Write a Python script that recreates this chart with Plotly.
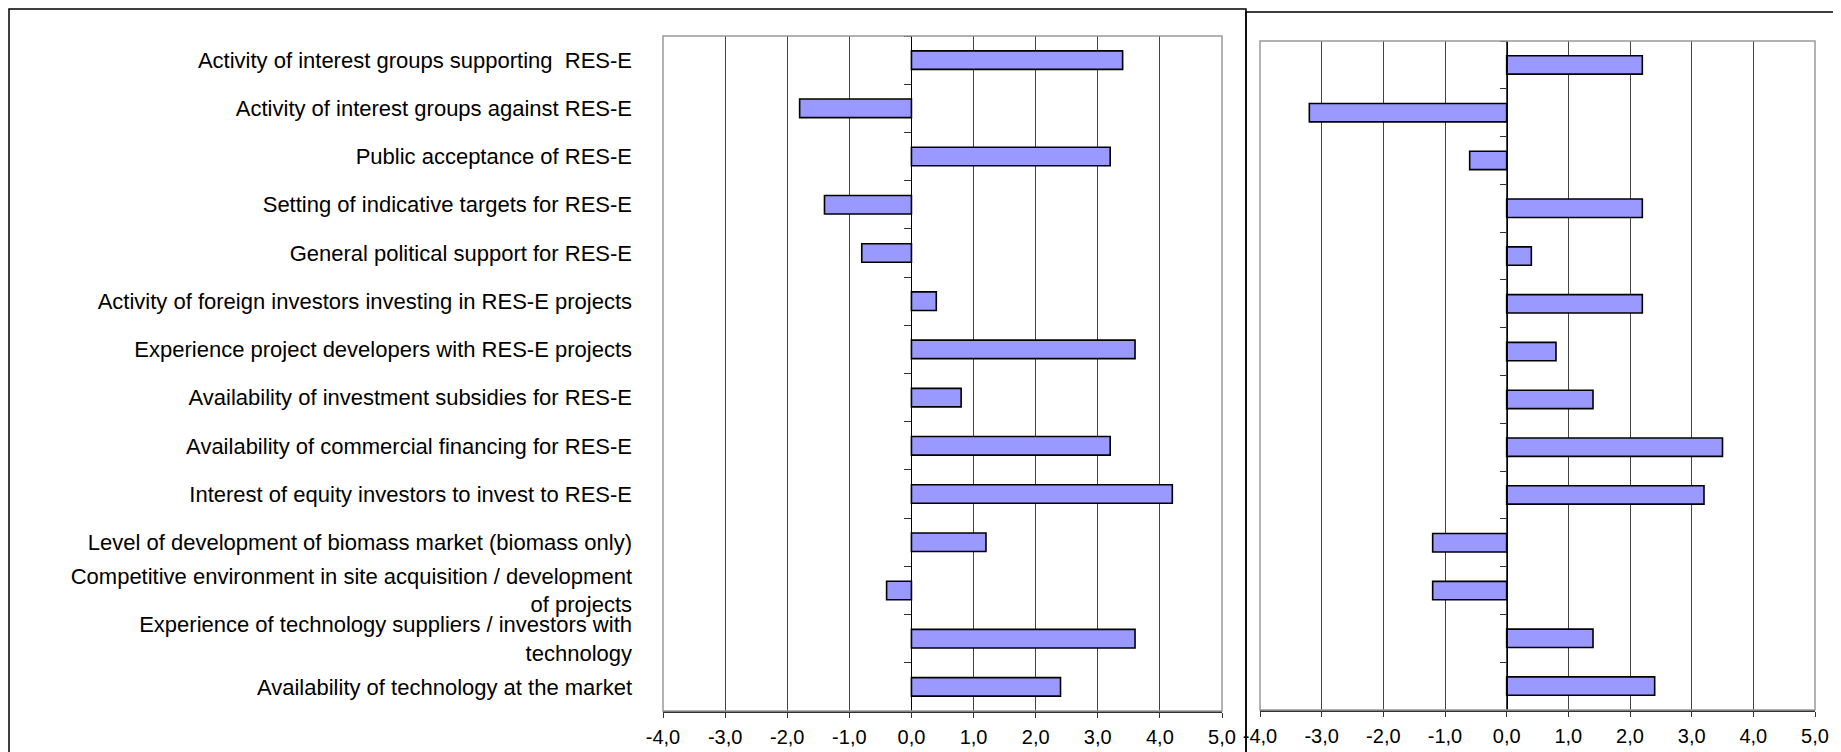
import plotly.graph_objects as go

# factors, top to bottom as in the chart
factors = [
    "Activity of interest groups supporting  RES-E",
    "Activity of interest groups against RES-E",
    "Public acceptance of RES-E",
    "Setting of indicative targets for RES-E",
    "General political support for RES-E",
    "Activity of foreign investors investing in RES-E projects",
    "Experience project developers with RES-E projects",
    "Availability of investment subsidies for RES-E",
    "Availability of commercial financing for RES-E",
    "Interest of equity investors to invest to RES-E",
    "Level of development of biomass market (biomass only)",
    "Competitive environment in site acquisition / development<br>of projects",
    "Experience of technology suppliers / investors with<br>technology",
    "Availability of technology at the market",
]
scores_left = [3.4, -1.8, 3.2, -1.4, -0.8, 0.4, 3.6, 0.8, 3.2, 4.2, 1.2, -0.4, 3.6, 2.4]
scores_right = [2.2, -3.2, -0.6, 2.2, 0.4, 2.2, 0.8, 1.4, 3.5, 3.2, -1.2, -1.2, 1.4, 2.4]
x_ticks = [-4, -3, -2, -1, 0, 1, 2, 3, 4, 5]
x_labels = [f"{v:.1f}".replace(".", ",") for v in x_ticks]

# the page body adds an 8px margin, so the figure is drawn 8px smaller
PAGE_OFF = 8
W, H = 1841 - PAGE_OFF, 752 - PAGE_OFF
FONT = "Liberation Sans"
BAR_FILL = "#9999FF"


def fx(px):
    return (px - PAGE_OFF) / W


def fy(py):
    return (H - (py - PAGE_OFF)) / H


dom_left = [fx(663), fx(1222)]
dom_right = [fx(1260), fx(1815)]
ydom_left = [fy(711), fy(36)]
ydom_right = [fy(710), fy(41)]


def zero_pos(dom):
    return dom[0] + (0 - x_ticks[0]) / (x_ticks[-1] - x_ticks[0]) * (dom[1] - dom[0])


n = len(factors)
cat_range = [n - 0.5, -0.5]
boundaries = [k - 0.5 for k in range(n + 1)]

fig = go.Figure()
bar_style = dict(orientation="h", marker=dict(color=BAR_FILL, line=dict(color="black", width=1.6)),
                 showlegend=False, hoverinfo="x+y")
fig.add_trace(go.Bar(x=scores_left, y=factors, xaxis="x", yaxis="y", **bar_style))
fig.add_trace(go.Bar(x=scores_right, y=factors, xaxis="x2", yaxis="y2", **bar_style))
# hidden helpers so the zero-line tick axes get drawn
for xa, ya in [("x", "y3"), ("x2", "y4")]:
    fig.add_trace(go.Scatter(x=[0], y=[0], xaxis=xa, yaxis=ya, mode="markers",
                             marker=dict(opacity=0), hoverinfo="skip", showlegend=False))

xstyle = dict(range=[x_ticks[0], x_ticks[-1]], tickvals=x_ticks, ticktext=x_labels,
              showgrid=True, gridcolor="#444", gridwidth=1, zeroline=False,
              showline=True, linecolor="#333", linewidth=1.5,
              ticks="outside", ticklen=5, tickcolor="#333",
              tickfont=dict(family=FONT, size=20, color="black"), ticklabelstandoff=2,
              automargin=False, fixedrange=True)
tickaxis = dict(range=cat_range, tickvals=boundaries, showticklabels=False,
                ticks="outside", ticklen=7, tickcolor="#333", tickwidth=1,
                showline=True, linecolor="black", linewidth=1.2,
                showgrid=False, zeroline=False, anchor="free",
                automargin=False, fixedrange=True)

fig.update_layout(
    width=W, height=H,
    margin=dict(l=0, r=0, t=0, b=0, autoexpand=False),
    paper_bgcolor="white", plot_bgcolor="white",
    bargap=0.615,
    font=dict(family=FONT, color="black"),
    xaxis=dict(domain=dom_left, anchor="y", **xstyle),
    xaxis2=dict(domain=dom_right, anchor="y2", **xstyle),
    yaxis=dict(domain=ydom_left, anchor="x", type="category", range=cat_range,
               showgrid=False, ticks="", showline=False, ticklabelstandoff=30,
               tickfont=dict(family=FONT, size=22, color="black"),
               automargin=False, fixedrange=True),
    yaxis2=dict(domain=ydom_right, anchor="x2", type="category", range=cat_range,
                showgrid=False, ticks="", showline=False, showticklabels=False,
                automargin=False, fixedrange=True),
    yaxis3=dict(overlaying="y", position=zero_pos(dom_left), **tickaxis),
    yaxis4=dict(overlaying="y2", position=zero_pos(dom_right), **tickaxis),
)

# light grey plot-area borders
for xr, yr in [("x domain", "y domain"), ("x2 domain", "y2 domain")]:
    fig.add_shape(type="rect", xref=xr, yref=yr, x0=0, x1=1, y0=0, y1=1,
                  line=dict(color="#999", width=1.5), layer="above")

# outer chart frames (left/top edges pulled in to the first visible pixel)
fig.add_shape(type="rect", xref="paper", yref="paper", x0=fx(9), x1=fx(1246),
              y0=-0.1, y1=fy(9), line=dict(color="black", width=1.5))
fig.add_shape(type="rect", xref="paper", yref="paper", x0=fx(1246), x1=fx(1839),
              y0=-0.1, y1=fy(12), line=dict(color="black", width=1.5))

fig.write_html("out.html")
